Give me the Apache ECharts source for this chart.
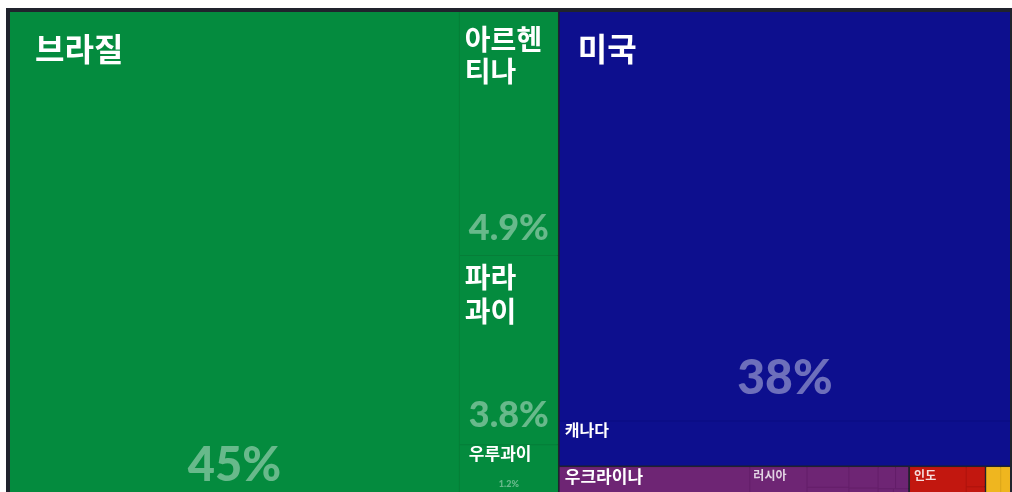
<!DOCTYPE html>
<html>
<head>
<meta charset="utf-8">
<script src="https://cdn.jsdelivr.net/npm/echarts@6/dist/echarts.min.js"></script>
<style>
  html, body { margin: 0; padding: 0; background: #fff; }
  #chart { width: 1012px; height: 492px; }
</style>
</head>
<body>
<div id="chart"></div>
<script>
// 대륙 / 국가별 수출 비중 (%)
const continents = ['남아메리카', '북아메리카', '유럽', '아시아', '아프리카'];
const countries = ['브라질', '아르헨티나', '파라과이', '우루과이', '미국', '캐나다',
  '우크라이나', '러시아', '세르비아', '크로아티아', '루마니아', '몰도바', '헝가리',
  '오스트리아', '슬로바키아', '불가리아', '인도', '중국', '카자흐스탄',
  '남아프리카 공화국', '잠비아', '말라위'];
const shares = [45.0, 4.9, 3.8, 1.2, 37.5, 4.1,
  1.5, 0.45, 0.18, 0.15, 0.13, 0.1, 0.08,
  0.06, 0.05, 0.05, 0.45, 0.08, 0.07,
  0.09, 0.06, 0.05];
const continentOf = [0, 0, 0, 0, 1, 1, 2, 2, 2, 2, 2, 2, 2, 2, 2, 2, 3, 3, 3, 4, 4, 4];
// 퍼센트 표시하는 나라
const pctShown = ['브라질', '미국', '아르헨티나', '파라과이', '우루과이'];

// 스타일
const fills = ['#048b3e', '#0d0f8e', '#6e2574', '#c2170f', '#efb61f'];
const lines = ['#067e38', '#0a0c80', '#641f69', '#ad140d', '#d9a41b'];
const nameStyle = {
  '브라질': { fontSize: 32, padding: [21, 4, 4, 25] },
  '미국': { fontSize: 32, padding: [21, 4, 4, 18] },
  '아르헨티나': { fontSize: 28, lineHeight: 32, padding: [11, 2, 2, 5] },
  '파라과이': { fontSize: 28, lineHeight: 34, padding: [4, 2, 2, 5] },
  '우루과이': { fontSize: 17, padding: [0, 2, 2, 9] },
  '캐나다': { fontSize: 16, padding: [1, 2, 2, 5] },
  '우크라이나': { fontSize: 17, padding: [1, 2, 2, 5] },
  '러시아': { fontSize: 12, padding: [2, 2, 2, 3], color: 'rgba(255,255,255,0.8)' },
  '인도': { fontSize: 12, padding: [2, 2, 2, 4], color: 'rgba(255,255,255,0.85)' }
};
const wrapped = { '아르헨티나': '아르헨\n티나', '파라과이': '파라\n과이' };
const pctStyle = {
  '브라질': { fontSize: 47, padding: [0, 0, 15, 0] },
  '미국': { fontSize: 48, padding: [0, 0, 18, 0] },
  '아르헨티나': { fontSize: 36, padding: [0, 0, 9, 0] },
  '파라과이': { fontSize: 36, padding: [0, 0, 11, 0] },
  '우루과이': { fontSize: 9, padding: [0, 0, 15, 0] }
};

function fmtPct(v) {
  return v >= 10 ? Math.round(v) + '%' : v.toFixed(1) + '%';
}

const clear = 'rgba(0,0,0,0)';

function buildTree(forPct) {
  return continents.map((c, ci) => ({
    name: c,
    itemStyle: forPct
      ? { color: clear, borderColor: clear }
      : { color: fills[ci], borderColor: lines[ci] },
    children: countries
      .map((n, i) => ({ n, i }))
      .filter((d) => continentOf[d.i] === ci)
      .map(({ n, i }) => {
        const item = { name: n, value: shares[i] };
        if (forPct) {
          item.itemStyle = { color: clear, borderColor: clear };
          const st = pctShown.includes(n) ? pctStyle[n] : null;
          item.label = st
            ? { show: true, formatter: fmtPct(shares[i]), ...st }
            : { show: false };
        } else {
          item.itemStyle = { color: fills[ci], borderColor: lines[ci] };
          const st = nameStyle[n];
          item.label = st
            ? { show: true, formatter: wrapped[n] || n, ...st }
            : { show: false };
        }
        return item;
      })
  }));
}

const chart = echarts.init(document.getElementById('chart'));

const common = {
  type: 'treemap',
  left: 6,
  top: 8,
  width: 1008,
  height: 500,
  roam: false,
  nodeClick: false,
  breadcrumb: { show: false },
  animation: false,
  silent: true
};

chart.setOption({
  animation: false,
  series: [
    {
      ...common,
      data: buildTree(false),
      label: {
        position: 'insideTopLeft',
        color: '#fff',
        fontFamily: 'Noto Sans CJK KR',
        fontWeight: 'bold',
        overflow: 'none'
      },
      levels: [
        { itemStyle: { borderColor: '#20232d', borderWidth: 4, gapWidth: 2 } },
        { itemStyle: { borderWidth: 0, gapWidth: 1 } },
        { itemStyle: { borderWidth: 0 } }
      ]
    },
    {
      ...common,
      data: buildTree(true),
      itemStyle: { color: clear, borderColor: clear },
      label: {
        position: 'insideBottom',
        align: 'center',
        verticalAlign: 'bottom',
        color: 'rgba(255,255,255,0.4)',
        fontFamily: 'Lato',
        fontWeight: 900,
        overflow: 'none'
      },
      levels: [
        { itemStyle: { color: clear, borderColor: clear, borderWidth: 4, gapWidth: 2 } },
        { itemStyle: { color: clear, borderColor: clear, borderWidth: 0, gapWidth: 1 } },
        { itemStyle: { color: clear, borderColor: clear, borderWidth: 0 } }
      ]
    }
  ]
});
</script>
</body>
</html>
